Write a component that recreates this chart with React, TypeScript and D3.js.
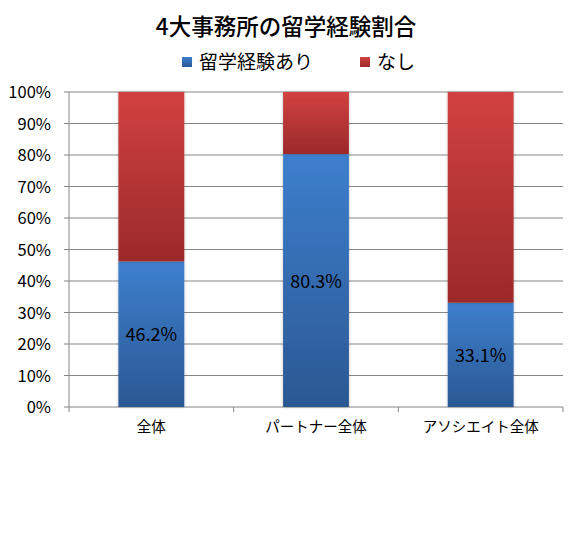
import React from "react";
import * as d3 from "d3";

const categories = ["全体", "パートナー全体", "アソシエイト全体"];
const studyAbroad = [46.2, 80.3, 33.1];
const none = [53.8, 19.7, 66.9];
const yTicks = [0, 10, 20, 30, 40, 50, 60, 70, 80, 90, 100];
const seriesNames = ["留学経験あり", "なし"];
const title = "4大事務所の留学経験割合";

const W = 573, H = 551;
const left = 69, right = 563, top = 92, bottom = 407;
const font = "'Noto Sans CJK JP', 'Noto Sans', sans-serif";

export default function App() {
  const x = d3.scaleBand<string>().domain(categories).range([left, right]).paddingInner(0.6).paddingOuter(0.3);
  const xb = d3.scaleBand<string>().domain(categories).range([left, right]);
  const y = d3.scaleLinear().domain([0, 100]).range([bottom, top]);
  const stack = d3.stack<any>().keys(["a", "b"])(categories.map((c, i) => ({ c, a: studyAbroad[i], b: none[i] })));
  return (
    <svg width={W} height={H} style={{ position: "absolute", left: 0, top: 0, background: "#fff" }} fontFamily={font}>
      <defs>
        <linearGradient id="gb" x1="0" y1="0" x2="0" y2="1">
          <stop offset="0" stopColor="#3d7fcd" />
          <stop offset="1" stopColor="#2b5893" />
        </linearGradient>
        <linearGradient id="gr" x1="0" y1="0" x2="0" y2="1">
          <stop offset="0" stopColor="#d24141" />
          <stop offset="1" stopColor="#9b2a2a" />
        </linearGradient>
        <filter id="sh" x="-20%" y="-5%" width="140%" height="110%">
          <feGaussianBlur in="SourceAlpha" stdDeviation="1.5" />
          <feOffset dx="0" dy="0" />
          <feComponentTransfer><feFuncA type="linear" slope="0.25" /></feComponentTransfer>
          <feMerge><feMergeNode /><feMergeNode in="SourceGraphic" /></feMerge>
        </filter>
      </defs>
      <text x={286} y={35} textAnchor="middle" fontSize={22.5} fontWeight={500} fill="#000">{title}</text>
      <rect x={182} y={57} width={10} height={10} fill="url(#gb)" />
      <text x={199} y={69} fontSize={19} fill="#000">{seriesNames[0]}</text>
      <rect x={360} y={57} width={10} height={10} fill="url(#gr)" />
      <text x={377} y={69} fontSize={19} fill="#000">{seriesNames[1]}</text>
      {yTicks.map((t) => (
        <g key={t}>
          <line x1={left - 5} x2={right} y1={y(t)} y2={y(t)} stroke="#868686" strokeWidth={1} />
          <text x={51} y={y(t) + 6} textAnchor="end" fontSize={16.5} fill="#000">{t}%</text>
        </g>
      ))}
      <line x1={left} x2={left} y1={top} y2={bottom} stroke="#868686" />
      {[...categories.map((c) => xb(c)!), right].map((v, i) => (
        <line key={i} x1={v} x2={v} y1={bottom} y2={bottom + 5} stroke="#868686" />
      ))}
      {stack.map((s, si) => (
        <g key={si} filter="url(#sh)">
          {s.map((d, i) => (
            <rect key={i} x={x(categories[i])} width={x.bandwidth()} y={y(d[1])} height={y(d[0]) - y(d[1])} fill={si === 0 ? "url(#gb)" : "url(#gr)"} />
          ))}
        </g>
      ))}
      {studyAbroad.map((v, i) => (
        <text key={i} x={x(categories[i])! + x.bandwidth() / 2} y={(y(0) + y(v)) / 2 + 7} textAnchor="middle" fontSize={18} fill="#000">{v.toFixed(1)}%</text>
      ))}
      {categories.map((c) => (
        <text key={c} x={xb(c)! + xb.bandwidth() / 2} y={432} textAnchor="middle" fontSize={14.5} fill="#000">{c}</text>
      ))}
    </svg>
  );
}
